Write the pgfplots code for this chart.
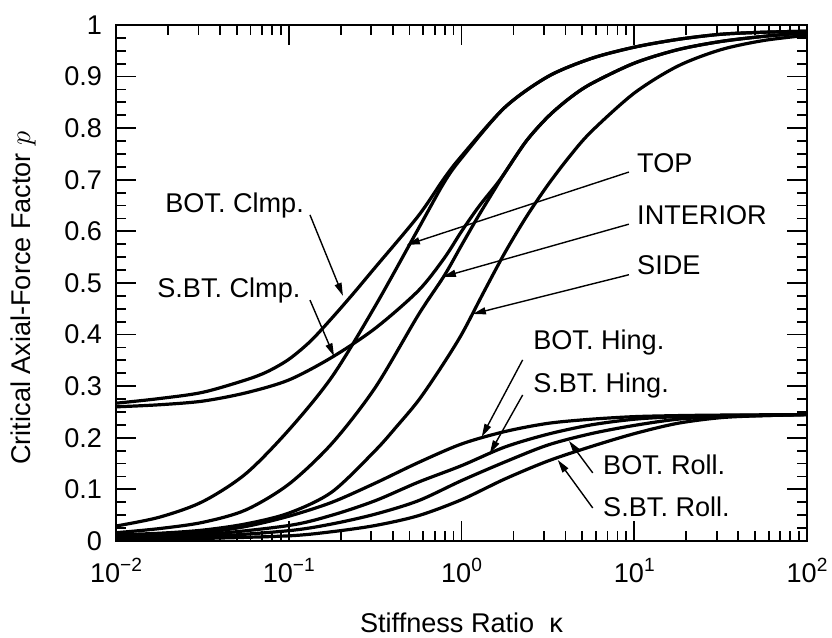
\documentclass[border=0pt]{standalone}
\usepackage{fontspec}
\setmainfont{Liberation Sans}
\usepackage{pgfplots}
\pgfplotsset{compat=1.18}
\usetikzlibrary{arrows.meta}

\newcommand\ep[1]{10\raisebox{0.42em}{\fontsize{9.6}{10}\selectfont #1}}
\newcommand\lbl{\fontsize{13.6}{15}\selectfont}

% curves (x = stiffness ratio, y = p)
\pgfplotstableread{
x y
0.01 0.029
0.01778 0.046
0.03162 0.076
0.05623 0.130
0.1 0.215
0.1778 0.318
0.3162 0.455
0.5623 0.605
0.7943 0.695
1 0.742
1.778 0.840
3.162 0.900
5.623 0.935
10 0.957
17.78 0.972
31.62 0.982
56.23 0.986
100 0.988
}\topdata
\pgfplotstableread{
x y
0.01 0.267
0.01778 0.276
0.03162 0.288
0.05623 0.312
0.075 0.328
0.1 0.352
0.1334 0.387
0.1778 0.432
0.2371 0.480
0.3162 0.530
0.5623 0.630
0.7943 0.703
1 0.746
1.778 0.840
3.162 0.900
5.623 0.935
10 0.957
17.78 0.972
31.62 0.982
56.23 0.986
100 0.988
}\botclmp
\pgfplotstableread{
x y
0.01 0.260
0.01778 0.264
0.03162 0.271
0.05623 0.287
0.1 0.312
0.1778 0.356
0.3162 0.412
0.5623 0.485
0.7943 0.548
1 0.600
1.259 0.648
1.585 0.690
1.778 0.713
2.371 0.775
3.162 0.822
4.217 0.858
5.623 0.886
10 0.926
17.78 0.952
31.62 0.968
56.23 0.978
100 0.985
}\sbtclmp
\pgfplotstableread{
x y
0.01 0.016
0.01778 0.024
0.03162 0.036
0.05623 0.060
0.1 0.110
0.1778 0.189
0.3162 0.297
0.5623 0.438
0.7943 0.514
1 0.573
1.259 0.631
1.585 0.686
1.778 0.713
2.371 0.775
3.162 0.822
4.217 0.858
5.623 0.886
10 0.926
17.78 0.952
31.62 0.968
56.23 0.978
100 0.985
}\interior
\pgfplotstableread{
x y
0.01 0.012
0.01778 0.015
0.03162 0.021
0.05623 0.033
0.1 0.054
0.1778 0.095
0.3162 0.175
0.4217 0.222
0.5623 0.272
0.7499 0.333
1 0.400
1.334 0.480
1.778 0.558
2.371 0.628
3.162 0.690
4.217 0.745
5.623 0.793
10 0.868
17.78 0.920
31.62 0.952
56.23 0.970
100 0.980
}\side
\pgfplotstableread{
x y
0.01 0.008
0.01778 0.011
0.03162 0.016
0.05623 0.028
0.1 0.048
0.1778 0.075
0.3162 0.112
0.5623 0.152
1 0.188
1.778 0.212
3.162 0.228
5.623 0.236
10 0.241
17.78 0.243
31.62 0.244
100 0.245
}\bothing
\pgfplotstableread{
x y
0.01 0.006
0.03162 0.012
0.1 0.030
0.1778 0.050
0.3162 0.078
0.5623 0.114
1 0.146
1.778 0.182
3.162 0.207
5.623 0.225
10 0.236
17.78 0.241
31.62 0.243
100 0.245
}\sbthing
\pgfplotstableread{
x y
0.01 0.005
0.03162 0.008
0.1 0.020
0.1778 0.033
0.3162 0.052
0.5623 0.078
1 0.117
1.778 0.153
3.162 0.186
5.623 0.208
10 0.224
17.78 0.236
31.62 0.241
56.23 0.243
100 0.245
}\botroll
\pgfplotstableread{
x y
0.01 0.003
0.03162 0.005
0.1 0.010
0.1778 0.018
0.3162 0.030
0.5623 0.049
1 0.080
1.778 0.120
3.162 0.155
5.623 0.183
10 0.208
17.78 0.228
31.62 0.239
56.23 0.243
100 0.245
}\sbtroll

\begin{document}
\begin{tikzpicture}
\path[use as bounding box] (-58bp,-48.5bp) rectangle (358bp,270.5bp);
\begin{axis}[
    at={(0,0)}, anchor=south west,
    scale only axis,
    width=345.5bp, height=258bp,
    xmode=log,
    xmin=0.01, xmax=100,
    ymin=0, ymax=1,
    xtick={0.01,0.1,1,10,100},
    xticklabels={\ep{−2},\ep{−1},\ep{0},\ep{1},\ep{2}},
    minor xtick={0.02,0.03,0.04,0.05,0.06,0.07,0.08,0.09,
                 0.2,0.3,0.4,0.5,0.6,0.7,0.8,0.9,
                 2,3,4,5,6,7,8,9,20,30,40,50,60,70,80,90},
    ytick={0,0.1,0.2,0.3,0.4,0.5,0.6,0.7,0.8,0.9,1},
    minor y tick num=3,
    tick align=inside,
    major tick length=10bp,
    minor tick length=5bp,
    every tick/.style={black, line width=0.9bp},
    axis line style={line width=1.4bp},
    /pgf/number format/assume math mode=true,
    tick label style={font=\lbl},
    xticklabel style={yshift=-5bp},
    yticklabel style={xshift=-3.5bp},
    xlabel={Stiffness Ratio\ \ κ},
    ylabel={Critical Axial-Force Factor $p$},
    xlabel style={font=\lbl, at={(axis description cs:0.5,-0.158)}, anchor=center},
    ylabel style={font=\lbl, at={(axis description cs:-0.1346,0.471)}, anchor=center},
    crv/.style={black, line width=1.6bp, smooth, no markers},
    clip=true,
]
\addplot[crv] table {\topdata};
\addplot[crv] table {\botclmp};
\addplot[crv] table {\sbtclmp};
\addplot[crv] table {\interior};
\addplot[crv] table {\side};
\addplot[crv] table {\bothing};
\addplot[crv] table {\sbthing};
\addplot[crv] table {\botroll};
\addplot[crv] table {\sbtroll};

% labels and arrows
\tikzset{lab/.style={font=\lbl, anchor=west, inner sep=0pt},
         arr/.style={line width=0.7bp, -{Triangle[length=6.5bp,width=3.5bp]}}}
\node[lab] at (axis cs:10.35,0.733) {TOP};
\draw[arr] (axis cs:9.31,0.715) -- (axis cs:0.483,0.574);
\node[lab] at (axis cs:10.35,0.632) {INTERIOR};
\draw[arr] (axis cs:9.31,0.614) -- (axis cs:0.780,0.512);
\node[lab] at (axis cs:10.35,0.535) {SIDE};
\draw[arr] (axis cs:9.31,0.516) -- (axis cs:1.164,0.440);
\node[lab] at (axis cs:0.0192,0.651) {BOT. Clmp.};
\draw[arr] (axis cs:0.1327,0.632) -- (axis cs:0.206,0.475);
\node[lab] at (axis cs:0.01726,0.486) {S.BT. Clmp.};
\draw[arr] (axis cs:0.1327,0.467) -- (axis cs:0.183,0.358);
\node[lab] at (axis cs:2.59,0.384) {BOT. Hing.};
\draw[arr] (axis cs:2.26,0.351) -- (axis cs:1.31,0.202);
\node[lab] at (axis cs:2.59,0.302) {S.BT. Hing.};
\draw[arr] (axis cs:2.26,0.283) -- (axis cs:1.459,0.170);
\node[lab] at (axis cs:6.58,0.147) {BOT. Roll.};
\draw[arr] (axis cs:5.75,0.132) -- (axis cs:4.19,0.194);
\node[lab] at (axis cs:6.58,0.066) {S.BT. Roll.};
\draw[arr] (axis cs:5.75,0.064) -- (axis cs:3.61,0.157);
\end{axis}
\end{tikzpicture}
\end{document}
